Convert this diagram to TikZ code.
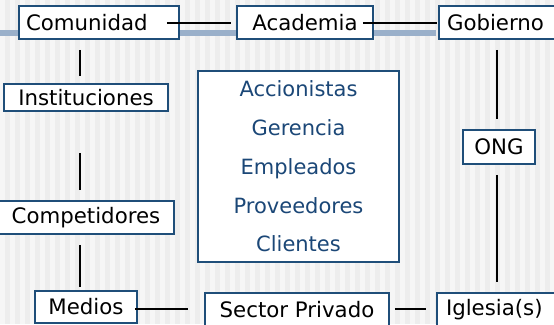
\documentclass[tikz,border=0pt]{standalone}
\usepackage{fontspec}
\setmainfont{DejaVu Sans}
\usetikzlibrary{calc}
\definecolor{bordc}{HTML}{1F4E79}
\definecolor{txtb}{HTML}{1B4777}
\definecolor{bandc}{HTML}{9AB0CA}
\definecolor{bgA}{HTML}{EDEDED}
\definecolor{bgB}{HTML}{F6F6F6}
\begin{document}
\begin{tikzpicture}[x=1pt,y=-1pt,
  box/.style={draw=bordc,line width=1.6pt,fill=white,inner sep=0pt,minimum height=33pt,font=\fontsize{21.3}{25}\selectfont},
  conn/.style={line width=2pt,black}]
\useasboundingbox (0,0) rectangle (554,324);
\fill[bgA] (0,0) rectangle (554,324);
\foreach \i in {0,...,55} \fill[bgB] (\i*10,0) rectangle (\i*10+5,324);
\fill[bandc] (0,30) rectangle (436,36);

\node[box,minimum width=160pt,text width=146pt,align=left] (com) at (99,22.5) {Comunidad};
\node[box,minimum width=136pt] (aca) at (305,22.5) {Academia};
\node[box,minimum width=121pt,text width=105pt,align=left] (gob) at (499.5,22.5) {Gobierno};
\node[box,minimum width=164pt,minimum height=27pt] (ins) at (86,97.5) {Instituciones};
\node[box,minimum width=201pt,minimum height=191pt,align=center,text=txtb,font=\fontsize{21}{38.8}\selectfont] (cen) at (298.5,166.5)
  {Accionistas\\Gerencia\\Empleados\\Proveedores\\Clientes};
\node[box,minimum width=176pt] (comp) at (86,217.5) {Competidores};
\node[box,minimum width=102pt,minimum height=32pt] (med) at (86,307) {Medios};
\node[box,minimum width=184pt] (sec) at (297,309.5) {Sector Privado};
\node[box,minimum width=123pt,text width=105pt,align=left] (igl) at (498.5,309.5) {Iglesia(s)};
\node[box,minimum width=72pt,minimum height=34pt] (ong) at (499,147) {ONG};

\draw[conn] ($(com.east)+(-13,0)$) -- ($(aca.west)+(-5,0)$);
\draw[conn] ($(aca.east)+(-11,0)$) -- ($(gob.west)+(-1,0)$);
\draw[conn] ($(com.south)+(-19,10)$) -- ($(ins.north)+(-6,-7)$);
\draw[conn] ($(ins.south)+(-6,41)$) -- ($(comp.north)+(-6,-10)$);
\draw[conn] ($(comp.south)+(-6,10)$) -- ($(med.north)+(-6,-3)$);
\draw[conn] ($(med.east)+(-3,2)$) -- ($(sec.west)+(-16,-0.5)$);
\draw[conn] ($(sec.east)+(5,-0.5)$) -- ($(igl.west)+(-10,-0.5)$);
\draw[conn] ($(gob.south)+(-2.5,10)$) -- ($(ong.north)+(-2,-10)$);
\draw[conn] ($(ong.south)+(-2,10)$) -- ($(igl.north)+(-1.5,-10)$);
\end{tikzpicture}
\end{document}
